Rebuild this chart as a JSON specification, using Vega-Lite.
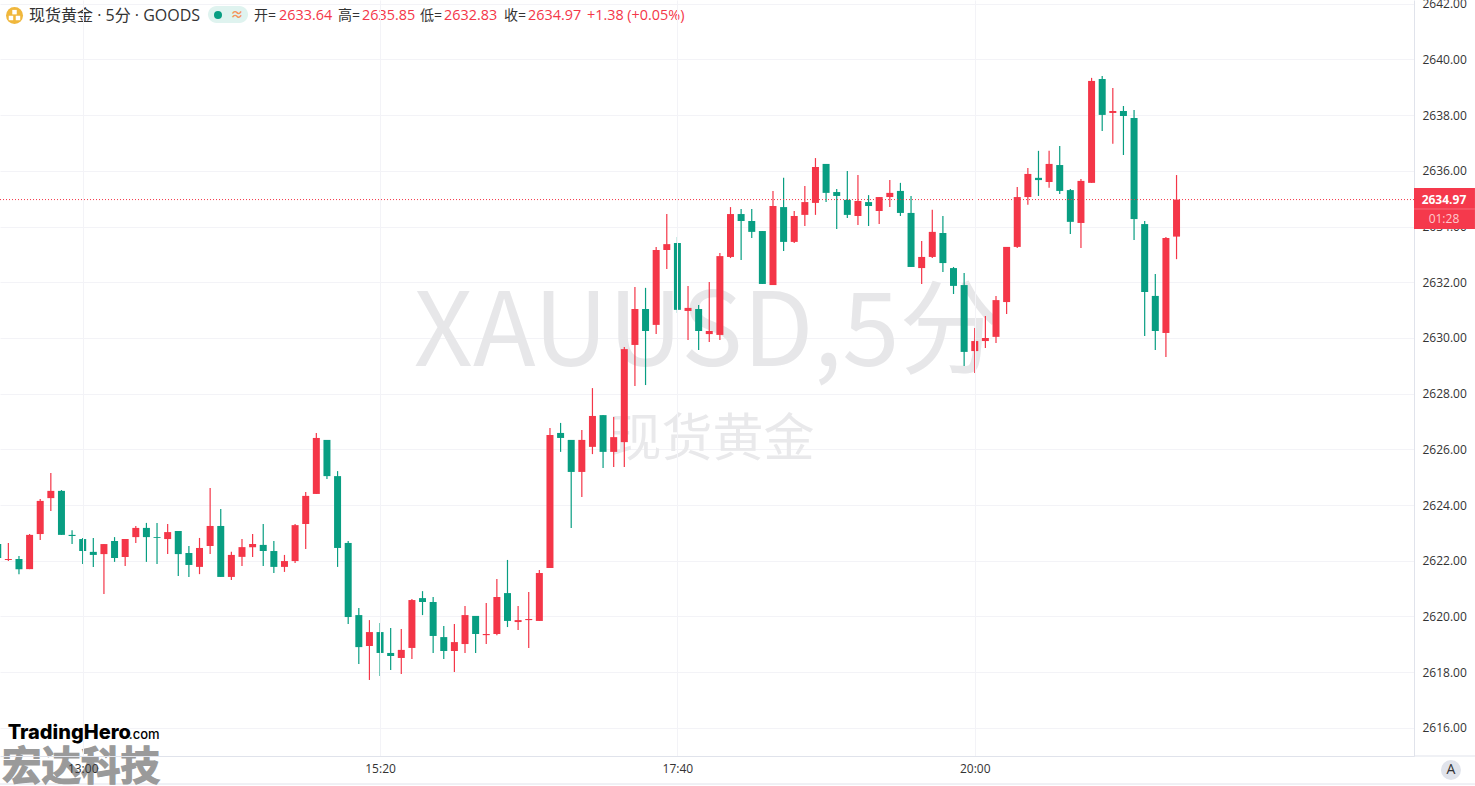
{"$schema":"https://vega.github.io/schema/vega-lite/v6.json","autosize":"none","width":1414,"height":756,"padding":{"left":0,"top":0,"right":61,"bottom":30},"background":"#ffffff","view":{"stroke":null},
"datasets":{"bars":[
{"t":"2024-12-10T12:20:00","o":2622.60,"h":2622.60,"l":2622.03,"c":2622.10,"d":"down"},
{"t":"2024-12-10T12:25:00","o":2622.03,"h":2622.64,"l":2621.99,"c":2622.06,"d":"up"},
{"t":"2024-12-10T12:30:00","o":2622.06,"h":2622.17,"l":2621.52,"c":2621.70,"d":"down"},
{"t":"2024-12-10T12:35:00","o":2621.70,"h":2622.96,"l":2621.70,"c":2622.93,"d":"up"},
{"t":"2024-12-10T12:40:00","o":2622.96,"h":2624.22,"l":2622.75,"c":2624.15,"d":"up"},
{"t":"2024-12-10T12:45:00","o":2624.25,"h":2625.15,"l":2623.79,"c":2624.51,"d":"up"},
{"t":"2024-12-10T12:50:00","o":2624.51,"h":2624.54,"l":2622.93,"c":2622.93,"d":"down"},
{"t":"2024-12-10T12:55:00","o":2622.93,"h":2623.10,"l":2622.60,"c":2622.89,"d":"down"},
{"t":"2024-12-10T13:00:00","o":2622.78,"h":2622.82,"l":2621.88,"c":2622.35,"d":"down"},
{"t":"2024-12-10T13:05:00","o":2622.32,"h":2622.82,"l":2621.78,"c":2622.21,"d":"down"},
{"t":"2024-12-10T13:10:00","o":2622.24,"h":2622.60,"l":2620.81,"c":2622.60,"d":"up"},
{"t":"2024-12-10T13:15:00","o":2622.71,"h":2622.85,"l":2621.96,"c":2622.10,"d":"down"},
{"t":"2024-12-10T13:20:00","o":2622.14,"h":2622.78,"l":2621.81,"c":2622.78,"d":"up"},
{"t":"2024-12-10T13:25:00","o":2622.85,"h":2623.25,"l":2622.64,"c":2623.18,"d":"up"},
{"t":"2024-12-10T13:30:00","o":2623.18,"h":2623.36,"l":2621.96,"c":2622.85,"d":"down"},
{"t":"2024-12-10T13:35:00","o":2622.85,"h":2623.36,"l":2621.88,"c":2622.82,"d":"down"},
{"t":"2024-12-10T13:40:00","o":2622.78,"h":2623.32,"l":2622.24,"c":2623.03,"d":"up"},
{"t":"2024-12-10T13:45:00","o":2623.07,"h":2623.07,"l":2621.45,"c":2622.24,"d":"down"},
{"t":"2024-12-10T13:50:00","o":2622.28,"h":2622.53,"l":2621.42,"c":2621.85,"d":"down"},
{"t":"2024-12-10T13:55:00","o":2621.78,"h":2622.82,"l":2621.52,"c":2622.46,"d":"up"},
{"t":"2024-12-10T14:00:00","o":2622.53,"h":2624.61,"l":2622.24,"c":2623.25,"d":"up"},
{"t":"2024-12-10T14:05:00","o":2623.25,"h":2623.86,"l":2621.42,"c":2621.42,"d":"down"},
{"t":"2024-12-10T14:10:00","o":2621.42,"h":2622.32,"l":2621.31,"c":2622.21,"d":"up"},
{"t":"2024-12-10T14:15:00","o":2622.14,"h":2622.78,"l":2621.81,"c":2622.49,"d":"up"},
{"t":"2024-12-10T14:20:00","o":2622.49,"h":2622.96,"l":2622.14,"c":2622.60,"d":"up"},
{"t":"2024-12-10T14:25:00","o":2622.57,"h":2623.32,"l":2621.81,"c":2622.35,"d":"down"},
{"t":"2024-12-10T14:30:00","o":2622.35,"h":2622.71,"l":2621.56,"c":2621.78,"d":"down"},
{"t":"2024-12-10T14:35:00","o":2621.78,"h":2622.21,"l":2621.60,"c":2621.99,"d":"up"},
{"t":"2024-12-10T14:40:00","o":2621.99,"h":2623.32,"l":2621.92,"c":2623.28,"d":"up"},
{"t":"2024-12-10T14:45:00","o":2623.32,"h":2624.47,"l":2622.42,"c":2624.33,"d":"up"},
{"t":"2024-12-10T14:50:00","o":2624.40,"h":2626.59,"l":2624.40,"c":2626.41,"d":"up"},
{"t":"2024-12-10T14:55:00","o":2626.34,"h":2626.34,"l":2624.94,"c":2625.04,"d":"down"},
{"t":"2024-12-10T15:00:00","o":2625.04,"h":2625.22,"l":2621.78,"c":2622.46,"d":"down"},
{"t":"2024-12-10T15:05:00","o":2622.64,"h":2622.71,"l":2619.73,"c":2619.98,"d":"down"},
{"t":"2024-12-10T15:10:00","o":2620.05,"h":2620.30,"l":2618.29,"c":2618.90,"d":"down"},
{"t":"2024-12-10T15:15:00","o":2618.94,"h":2619.87,"l":2617.72,"c":2619.44,"d":"up"},
{"t":"2024-12-10T15:20:00","o":2619.44,"h":2619.77,"l":2617.86,"c":2618.69,"d":"down"},
{"t":"2024-12-10T15:25:00","o":2618.69,"h":2619.59,"l":2618.08,"c":2618.58,"d":"down"},
{"t":"2024-12-10T15:30:00","o":2618.51,"h":2619.55,"l":2617.93,"c":2618.80,"d":"up"},
{"t":"2024-12-10T15:35:00","o":2618.87,"h":2620.63,"l":2618.47,"c":2620.59,"d":"up"},
{"t":"2024-12-10T15:40:00","o":2620.66,"h":2620.91,"l":2620.05,"c":2620.52,"d":"down"},
{"t":"2024-12-10T15:45:00","o":2620.52,"h":2620.70,"l":2618.69,"c":2619.30,"d":"down"},
{"t":"2024-12-10T15:50:00","o":2619.26,"h":2619.66,"l":2618.47,"c":2618.76,"d":"down"},
{"t":"2024-12-10T15:55:00","o":2618.76,"h":2619.73,"l":2618.01,"c":2619.08,"d":"up"},
{"t":"2024-12-10T16:00:00","o":2619.01,"h":2620.38,"l":2618.69,"c":2620.05,"d":"up"},
{"t":"2024-12-10T16:05:00","o":2620.02,"h":2620.02,"l":2618.69,"c":2619.37,"d":"down"},
{"t":"2024-12-10T16:10:00","o":2619.33,"h":2620.48,"l":2619.01,"c":2619.37,"d":"up"},
{"t":"2024-12-10T16:15:00","o":2619.37,"h":2621.35,"l":2619.33,"c":2620.70,"d":"up"},
{"t":"2024-12-10T16:20:00","o":2620.84,"h":2622.03,"l":2619.62,"c":2619.84,"d":"down"},
{"t":"2024-12-10T16:25:00","o":2619.80,"h":2620.38,"l":2619.51,"c":2619.87,"d":"up"},
{"t":"2024-12-10T16:30:00","o":2619.87,"h":2620.88,"l":2618.87,"c":2619.91,"d":"up"},
{"t":"2024-12-10T16:35:00","o":2619.84,"h":2621.67,"l":2619.84,"c":2621.56,"d":"up"},
{"t":"2024-12-10T16:40:00","o":2621.74,"h":2626.77,"l":2621.74,"c":2626.52,"d":"up"},
{"t":"2024-12-10T16:45:00","o":2626.59,"h":2626.95,"l":2625.91,"c":2626.41,"d":"down"},
{"t":"2024-12-10T16:50:00","o":2626.34,"h":2626.34,"l":2623.18,"c":2625.19,"d":"down"},
{"t":"2024-12-10T16:55:00","o":2625.19,"h":2626.70,"l":2624.29,"c":2626.34,"d":"up"},
{"t":"2024-12-10T17:00:00","o":2626.09,"h":2628.20,"l":2625.83,"c":2627.20,"d":"up"},
{"t":"2024-12-10T17:05:00","o":2627.23,"h":2627.23,"l":2625.33,"c":2625.91,"d":"down"},
{"t":"2024-12-10T17:10:00","o":2625.91,"h":2627.16,"l":2625.37,"c":2626.44,"d":"up"},
{"t":"2024-12-10T17:15:00","o":2626.26,"h":2629.68,"l":2625.37,"c":2629.60,"d":"up"},
{"t":"2024-12-10T17:20:00","o":2629.75,"h":2631.83,"l":2628.28,"c":2631.04,"d":"up"},
{"t":"2024-12-10T17:25:00","o":2631.04,"h":2631.80,"l":2628.31,"c":2630.25,"d":"down"},
{"t":"2024-12-10T17:30:00","o":2630.47,"h":2633.27,"l":2630.14,"c":2633.16,"d":"up"},
{"t":"2024-12-10T17:35:00","o":2633.16,"h":2634.45,"l":2632.48,"c":2633.37,"d":"up"},
{"t":"2024-12-10T17:40:00","o":2633.41,"h":2633.63,"l":2630.90,"c":2631.01,"d":"down"},
{"t":"2024-12-10T17:45:00","o":2630.97,"h":2631.87,"l":2629.93,"c":2631.08,"d":"up"},
{"t":"2024-12-10T17:50:00","o":2631.04,"h":2631.18,"l":2629.57,"c":2630.25,"d":"down"},
{"t":"2024-12-10T17:55:00","o":2630.14,"h":2632.01,"l":2629.86,"c":2630.25,"d":"up"},
{"t":"2024-12-10T18:00:00","o":2630.11,"h":2633.05,"l":2629.93,"c":2632.94,"d":"up"},
{"t":"2024-12-10T18:05:00","o":2632.91,"h":2634.70,"l":2632.87,"c":2634.45,"d":"up"},
{"t":"2024-12-10T18:10:00","o":2634.45,"h":2634.63,"l":2632.80,"c":2634.20,"d":"down"},
{"t":"2024-12-10T18:15:00","o":2634.20,"h":2634.63,"l":2633.59,"c":2633.81,"d":"down"},
{"t":"2024-12-10T18:20:00","o":2633.84,"h":2633.84,"l":2631.94,"c":2631.94,"d":"down"},
{"t":"2024-12-10T18:25:00","o":2631.90,"h":2635.28,"l":2631.90,"c":2634.74,"d":"up"},
{"t":"2024-12-10T18:30:00","o":2634.70,"h":2635.75,"l":2633.12,"c":2633.45,"d":"down"},
{"t":"2024-12-10T18:35:00","o":2633.45,"h":2634.56,"l":2633.41,"c":2634.38,"d":"up"},
{"t":"2024-12-10T18:40:00","o":2634.42,"h":2635.46,"l":2634.02,"c":2634.88,"d":"up"},
{"t":"2024-12-10T18:45:00","o":2634.85,"h":2636.46,"l":2634.42,"c":2636.14,"d":"up"},
{"t":"2024-12-10T18:50:00","o":2636.25,"h":2636.25,"l":2634.88,"c":2635.21,"d":"down"},
{"t":"2024-12-10T18:55:00","o":2635.24,"h":2635.35,"l":2633.91,"c":2635.10,"d":"down"},
{"t":"2024-12-10T19:00:00","o":2634.96,"h":2636.00,"l":2634.31,"c":2634.42,"d":"down"},
{"t":"2024-12-10T19:05:00","o":2634.38,"h":2635.85,"l":2634.06,"c":2634.92,"d":"up"},
{"t":"2024-12-10T19:10:00","o":2634.88,"h":2635.13,"l":2634.02,"c":2634.74,"d":"down"},
{"t":"2024-12-10T19:15:00","o":2634.56,"h":2635.06,"l":2634.09,"c":2635.06,"d":"up"},
{"t":"2024-12-10T19:20:00","o":2635.06,"h":2635.67,"l":2634.70,"c":2635.21,"d":"up"},
{"t":"2024-12-10T19:25:00","o":2635.28,"h":2635.57,"l":2634.38,"c":2634.49,"d":"down"},
{"t":"2024-12-10T19:30:00","o":2634.49,"h":2635.10,"l":2632.55,"c":2632.55,"d":"down"},
{"t":"2024-12-10T19:35:00","o":2632.51,"h":2633.48,"l":2631.94,"c":2632.91,"d":"up"},
{"t":"2024-12-10T19:40:00","o":2632.91,"h":2634.60,"l":2632.87,"c":2633.81,"d":"up"},
{"t":"2024-12-10T19:45:00","o":2633.77,"h":2634.38,"l":2632.37,"c":2632.69,"d":"down"},
{"t":"2024-12-10T19:50:00","o":2632.51,"h":2632.55,"l":2631.58,"c":2631.87,"d":"down"},
{"t":"2024-12-10T19:55:00","o":2631.90,"h":2632.33,"l":2628.99,"c":2629.50,"d":"down"},
{"t":"2024-12-10T20:00:00","o":2629.53,"h":2630.36,"l":2628.74,"c":2629.89,"d":"up"},
{"t":"2024-12-10T20:05:00","o":2629.89,"h":2630.79,"l":2629.64,"c":2630.00,"d":"up"},
{"t":"2024-12-10T20:10:00","o":2630.04,"h":2631.51,"l":2629.82,"c":2631.36,"d":"up"},
{"t":"2024-12-10T20:15:00","o":2631.29,"h":2633.27,"l":2630.86,"c":2633.27,"d":"up"},
{"t":"2024-12-10T20:20:00","o":2633.27,"h":2635.42,"l":2633.23,"c":2635.06,"d":"up"},
{"t":"2024-12-10T20:25:00","o":2635.06,"h":2636.10,"l":2634.78,"c":2635.89,"d":"up"},
{"t":"2024-12-10T20:30:00","o":2635.75,"h":2636.72,"l":2635.10,"c":2635.67,"d":"down"},
{"t":"2024-12-10T20:35:00","o":2635.60,"h":2636.72,"l":2635.39,"c":2636.25,"d":"up"},
{"t":"2024-12-10T20:40:00","o":2636.21,"h":2636.89,"l":2635.17,"c":2635.28,"d":"down"},
{"t":"2024-12-10T20:45:00","o":2635.31,"h":2635.35,"l":2633.73,"c":2634.17,"d":"down"},
{"t":"2024-12-10T20:50:00","o":2634.13,"h":2635.71,"l":2633.23,"c":2635.64,"d":"up"},
{"t":"2024-12-10T20:55:00","o":2635.57,"h":2639.34,"l":2635.57,"c":2639.23,"d":"up"},
{"t":"2024-12-10T21:00:00","o":2639.30,"h":2639.41,"l":2637.43,"c":2638.01,"d":"down"},
{"t":"2024-12-10T21:05:00","o":2638.08,"h":2638.98,"l":2636.97,"c":2638.15,"d":"up"},
{"t":"2024-12-10T21:10:00","o":2638.15,"h":2638.33,"l":2636.57,"c":2637.97,"d":"down"},
{"t":"2024-12-10T21:15:00","o":2637.90,"h":2638.19,"l":2633.52,"c":2634.27,"d":"down"},
{"t":"2024-12-10T21:20:00","o":2634.09,"h":2634.20,"l":2630.07,"c":2631.65,"d":"down"},
{"t":"2024-12-10T21:25:00","o":2631.51,"h":2632.30,"l":2629.57,"c":2630.25,"d":"down"},
{"t":"2024-12-10T21:30:00","o":2630.18,"h":2633.63,"l":2629.32,"c":2633.59,"d":"up"},
{"t":"2024-12-10T21:35:00","o":2633.64,"h":2635.85,"l":2632.83,"c":2634.97,"d":"up"}
]},
"layer":[
{"data":{"values":[{"label":"XAUUSD,5分","t":"2024-12-10T17:54:24","p":2630.1}]},"mark":{"type":"text","font":"Noto Sans CJK SC","fontSize":103,"color":"#e7e7e9","align":"center","baseline":"middle"},"encoding":{"x":{"field":"t","type":"temporal","scale":{"domain":["2024-12-10T12:21:04","2024-12-10T23:26:48"],"nice":false,"padding":0},"axis":{"orient":"bottom","title":null,"values":["2024-12-10T13:00:00","2024-12-10T15:20:00","2024-12-10T17:40:00","2024-12-10T20:00:00"],"format":"%H:%M","grid":true,"gridColor":"#f3f3f7","gridWidth":1,"domainColor":"#e0e3eb","ticks":false,"labelPadding":7,"labelFontSize":12,"labelColor":"#333333","labelFont":"Open Sans","zindex":1,"labelFlush":false,"labelOverlap":false}},"y":{"field":"p","type":"quantitative","scale":{"domain":[2614.99,2642.136],"nice":false,"zero":false},"axis":{"orient":"right","title":null,"values":[2616,2618,2620,2622,2624,2626,2628,2630,2632,2634,2636,2638,2640,2642],"format":".2f","grid":true,"gridColor":"#f3f3f7","gridWidth":1,"domainColor":"#e0e3eb","ticks":false,"labelPadding":8,"labelFontSize":12,"labelColor":"#333333","labelFont":"Open Sans","labelFlush":false,"labelOverlap":false}},"text":{"field":"label"}}},
{"data":{"values":[{"label":"现货黄金","t":"2024-12-10T17:56:30","p":2626.3}]},"mark":{"type":"text","font":"Noto Sans CJK SC","fontSize":51,"color":"#e9e9eb","align":"center","baseline":"middle"},"encoding":{"x":{"field":"t","type":"temporal"},"y":{"field":"p","type":"quantitative"},"text":{"field":"label"}}},
{"data":{"name":"bars"},"mark":{"type":"rule","strokeWidth":1.2,"clip":true},"encoding":{"x":{"field":"t","type":"temporal"},"y":{"field":"h","type":"quantitative"},"y2":{"field":"l"},"color":{"field":"d","type":"nominal","scale":{"domain":["up","down"],"range":["#f43648","#089e82"]},"legend":null}}},
{"data":{"name":"bars"},"mark":{"type":"bar","size":7,"clip":true},"encoding":{"x":{"field":"t","type":"temporal"},"y":{"field":"o","type":"quantitative"},"y2":{"field":"c"},"color":{"field":"d","type":"nominal","legend":null}}},
{"data":{"values":[{"price":2634.97}]},"mark":{"type":"rule","stroke":"#f43648","strokeWidth":1,"strokeDash":[1,2]},"encoding":{"y":{"field":"price","type":"quantitative"}}},
{"data":{"values":[{"t":"2024-12-10T12:21:04","t2":"2024-12-10T23:55:30","p":2613.984},{"t":"2024-12-10T23:26:48","t2":"2024-12-10T23:55:30","p":2614.99}]},"mark":{"type":"rule","stroke":"#e0e3eb","strokeWidth":1},"encoding":{"x":{"field":"t","type":"temporal"},"x2":{"field":"t2"},"y":{"field":"p","type":"quantitative"}}},
{"data":{"values":[{"t":"2024-12-10T23:26:48","t2":"2024-12-10T23:55:30","p":2635.386,"p2":2633.914}]},"mark":{"type":"rect","color":"#f5394c"},"encoding":{"x":{"field":"t","type":"temporal"},"x2":{"field":"t2"},"y":{"field":"p","type":"quantitative"},"y2":{"field":"p2"}}},
{"data":{"values":[{"t":"2024-12-10T23:26:48","t2":"2024-12-10T23:55:30","p":2634.632}]},"mark":{"type":"rule","stroke":"#f76b79","strokeWidth":1},"encoding":{"x":{"field":"t","type":"temporal"},"x2":{"field":"t2"},"y":{"field":"p","type":"quantitative"}}},
{"data":{"values":[{"label":"2634.97","t":"2024-12-10T23:40:54","p":2634.97}]},"mark":{"type":"text","font":"Open Sans","fontSize":12,"fontWeight":"bold","color":"#ffffff","align":"center","baseline":"middle"},"encoding":{"x":{"field":"t","type":"temporal"},"y":{"field":"p","type":"quantitative"},"text":{"field":"label"}}},
{"data":{"values":[{"label":"01:28","t":"2024-12-10T23:40:54","p":2634.27}]},"mark":{"type":"text","font":"Open Sans","fontSize":12,"color":"#ffc9ce","align":"center","baseline":"middle"},"encoding":{"x":{"field":"t","type":"temporal"},"y":{"field":"p","type":"quantitative"},"text":{"field":"label"}}},
{"data":{"values":[{"t":"2024-12-10T12:27:54","p":2641.58}]},"mark":{"type":"point","filled":true,"shape":"circle","size":289,"color":"#f0b73c","opacity":1},"encoding":{"x":{"field":"t","type":"temporal"},"y":{"field":"p","type":"quantitative"}}},
{"data":{"values":[{"t":"2024-12-10T12:26:14","p":2641.49},{"t":"2024-12-10T12:29:32","p":2641.49},{"t":"2024-12-10T12:27:54","p":2641.7}]},"mark":{"type":"point","filled":true,"shape":"square","size":20,"color":"#ffffff","opacity":1},"encoding":{"x":{"field":"t","type":"temporal"},"y":{"field":"p","type":"quantitative"}}},
{"data":{"values":[{"t":"2024-12-10T13:59:00","t2":"2024-12-10T14:17:50","p":2641.92,"p2":2641.311}]},"mark":{"type":"rect","color":"#dff3ef","cornerRadius":9},"encoding":{"x":{"field":"t","type":"temporal"},"x2":{"field":"t2"},"y":{"field":"p","type":"quantitative"},"y2":{"field":"p2"}}},
{"data":{"values":[{"t":"2024-12-10T14:03:42","p":2641.598}]},"mark":{"type":"point","filled":true,"shape":"circle","size":64,"color":"#089e82","opacity":1},"encoding":{"x":{"field":"t","type":"temporal"},"y":{"field":"p","type":"quantitative"}}},
{"data":{"values":[{"label":"≈","t":"2024-12-10T14:12:38","p":2641.598}]},"mark":{"type":"text","font":"Noto Sans CJK SC","fontSize":13,"fontWeight":"bold","color":"#f5945c","align":"center","baseline":"middle"},"encoding":{"x":{"field":"t","type":"temporal"},"y":{"field":"p","type":"quantitative"},"text":{"field":"label"}}},
{"data":{"values":[{"label":"现货黄金 · 5分 · GOODS","t":"2024-12-10T12:34:43","p":2641.56}]},"mark":{"type":"text","font":"Open Sans, Noto Sans CJK SC","fontSize":16,"color":"#333333","align":"left","baseline":"middle"},"encoding":{"x":{"field":"t","type":"temporal"},"y":{"field":"p","type":"quantitative"},"text":{"field":"label"}}},
{"data":{"values":[{"label":"开=","t":"2024-12-10T14:20:39","p":2641.56},{"label":"高=","t":"2024-12-10T15:00:12","p":2641.56},{"label":"低=","t":"2024-12-10T15:38:48","p":2641.56},{"label":"收=","t":"2024-12-10T16:18:21","p":2641.56}]},"mark":{"type":"text","font":"Open Sans, Noto Sans CJK SC","fontSize":14,"color":"#333333","align":"left","baseline":"middle"},"encoding":{"x":{"field":"t","type":"temporal"},"y":{"field":"p","type":"quantitative"},"text":{"field":"label"}}},
{"data":{"values":[{"label":"2633.64","t":"2024-12-10T14:32:25","p":2641.56},{"label":"2635.85","t":"2024-12-10T15:11:30","p":2641.56},{"label":"2632.83","t":"2024-12-10T15:50:06","p":2641.56},{"label":"2634.97","t":"2024-12-10T16:29:39","p":2641.56},{"label":"+1.38 (+0.05%)","t":"2024-12-10T16:57:24","p":2641.56}]},"mark":{"type":"text","font":"Open Sans","fontSize":14.4,"color":"#f43648","align":"left","baseline":"middle"},"encoding":{"x":{"field":"t","type":"temporal"},"y":{"field":"p","type":"quantitative"},"text":{"field":"label"}}},
{"data":{"values":[{"label":"TradingHero","t":"2024-12-10T12:24:40","p":2615.82}]},"mark":{"type":"text","font":"Inter","fontSize":20,"fontWeight":800,"color":"#000000","align":"left","baseline":"middle"},"encoding":{"x":{"field":"t","type":"temporal"},"y":{"field":"p","type":"quantitative"},"text":{"field":"label"}}},
{"data":{"values":[{"label":".com","t":"2024-12-10T13:21:40","p":2615.75}]},"mark":{"type":"text","font":"Inter","fontSize":13,"fontWeight":500,"color":"#000000","align":"left","baseline":"middle"},"encoding":{"x":{"field":"t","type":"temporal"},"y":{"field":"p","type":"quantitative"},"text":{"field":"label"}}},
{"data":{"values":[{"label":"宏达科技","t":"2024-12-10T12:22:00","p":2614.55}]},"mark":{"type":"text","font":"Noto Sans CJK SC","fontSize":39.5,"fontWeight":"bold","color":"#9a9a9a","stroke":"#9a9a9a","strokeWidth":1.2,"align":"left","baseline":"middle"},"encoding":{"x":{"field":"t","type":"temporal"},"y":{"field":"p","type":"quantitative"},"text":{"field":"label"}}},
{"data":{"values":[{"t":"2024-12-10T23:44:12","p":2614.487}]},"mark":{"type":"point","filled":true,"shape":"circle","size":400,"color":"#e0e3eb","opacity":1},"encoding":{"x":{"field":"t","type":"temporal"},"y":{"field":"p","type":"quantitative"}}},
{"data":{"values":[{"label":"A","t":"2024-12-10T23:44:12","p":2614.487}]},"mark":{"type":"text","font":"Open Sans","fontSize":14,"color":"#333333","align":"center","baseline":"middle"},"encoding":{"x":{"field":"t","type":"temporal"},"y":{"field":"p","type":"quantitative"},"text":{"field":"label"}}}
]}
